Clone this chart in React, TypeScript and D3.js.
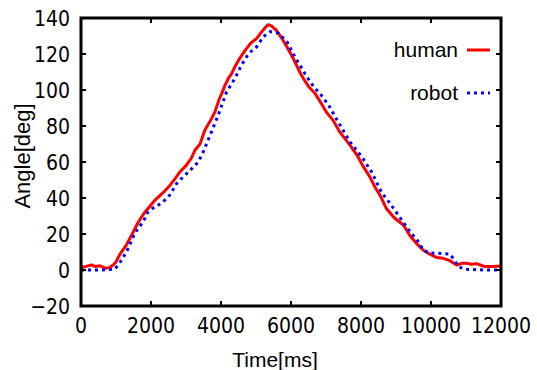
import React from 'react';
import * as d3 from 'd3';

// human trajectory (time in ms, angle in deg)
const humanTime = [0, 150, 300, 400, 550, 700, 800, 920, 1000, 1120, 1300, 1490, 1620, 1780, 1950, 2100, 2260, 2400, 2540, 2700, 2830, 3000, 3150, 3260, 3400, 3540, 3700, 3830, 3950, 4020, 4100, 4210, 4300, 4400, 4550, 4690, 4850, 5020, 5150, 5280, 5350, 5450, 5590, 5730, 5880, 5970, 6110, 6250, 6350, 6500, 6690, 6850, 7000, 7210, 7380, 7540, 7700, 7880, 8050, 8260, 8400, 8540, 8730, 8950, 9210, 9400, 9600, 9780, 9950, 10160, 10350, 10540, 10730, 10900, 11020, 11150, 11300, 11450, 11540, 11750, 12000];
const humanAngle = [1.5, 2, 2.8, 2, 2.3, 1, 1.2, 2.8, 4.5, 9, 14, 21, 26, 31, 35, 38.5, 41.5, 44, 47, 51, 54.6, 58, 62, 66.7, 70, 77.8, 83, 88, 95, 98, 102, 106.5, 109, 113, 118, 122, 126, 128.7, 132, 135, 136.3, 135.5, 133, 129, 124, 121, 115.7, 110, 106.5, 102, 98, 93, 88, 83, 77, 73, 69, 64, 58, 51.5, 46, 41.7, 34, 29, 25, 19, 14.5, 11, 9, 7, 6.5, 5.2, 2.8, 3.8, 3.7, 3.2, 3.5, 2.5, 1.9, 2, 2.2];

// robot trajectory
const robotTime = [0, 300, 600, 970, 1160, 1350, 1540, 1780, 1920, 2100, 2300, 2540, 2730, 2920, 3100, 3350, 3500, 3690, 3920, 4160, 4400, 4590, 4780, 4950, 5020, 5210, 5400, 5640, 5880, 6110, 6400, 6640, 6830, 7070, 7400, 7690, 8020, 8300, 8590, 8830, 9160, 9400, 9640, 9780, 9950, 10160, 10540, 10650, 10780, 10970, 11500, 12000];
const robotAngle = [0, 0, 0, 0.5, 5.5, 12, 20.5, 27, 32.4, 35, 37, 41.7, 48, 51.8, 55, 60, 66, 75, 86, 99, 106.5, 114, 120, 123, 124, 129.6, 132.4, 131.5, 127, 118.5, 109, 102, 98, 91.7, 80.5, 71, 63, 54.6, 43, 37, 27.8, 21.3, 15.7, 11, 9.5, 9.3, 8.9, 6, 1.9, 0.4, 0, 0];

const xTicks = [0, 2000, 4000, 6000, 8000, 10000, 12000];
const yTicks = [-20, 0, 20, 40, 60, 80, 100, 120, 140];

const W = 537;
const H = 370;
const FONT = '"Liberation Sans", Arial, sans-serif';
const NUM_FONT = '"Liberation Sans Narrow", "DejaVu Sans Condensed", sans-serif';

export default function App() {
  const x = d3.scaleLinear().domain([0, 12000]).range([81, 501]);
  const y = d3.scaleLinear().domain([-20, 140]).range([306, 18]);

  const line = d3.line<[number, number]>().x(d => x(d[0])).y(d => y(d[1]));
  const human = line(humanTime.map((t, i) => [t, humanAngle[i]] as [number, number])) || '';
  const robot = line(robotTime.map((t, i) => [t, robotAngle[i]] as [number, number])) || '';

  return (
    <svg width={W} height={H} style={{ position: 'absolute', left: 0, top: 0, background: '#fff' }}>
      <defs>
        <clipPath id="plot">
          <rect x={81} y={18} width={420} height={288} />
        </clipPath>
      </defs>
      <g clipPath="url(#plot)">
        <path d={human} fill="none" stroke="#ff0000" strokeWidth={3} strokeLinejoin="round" />
        <path d={robot} fill="none" stroke="#0000ff" strokeWidth={3} strokeDasharray="3,4" />
      </g>

      {/* ticks, inward on all sides */}
      {xTicks.map(t => (
        <g key={'xt' + t}>
          <line x1={x(t)} x2={x(t)} y1={y(-20)} y2={y(-20) - 5} stroke="#000" strokeWidth={2} />
          <line x1={x(t)} x2={x(t)} y1={y(140)} y2={y(140) + 5} stroke="#000" strokeWidth={2} />
          <text x={x(t)} y={333} textAnchor="middle" fontFamily={NUM_FONT} fontSize={21} fill="#000">{t}</text>
        </g>
      ))}
      {yTicks.map(v => (
        <g key={'yt' + v}>
          <line x1={x(0)} x2={x(0) + 5} y1={y(v)} y2={y(v)} stroke="#000" strokeWidth={2} />
          <line x1={x(12000)} x2={x(12000) - 5} y1={y(v)} y2={y(v)} stroke="#000" strokeWidth={2} />
          <text x={70} y={y(v) + 7.5} textAnchor="end" fontFamily={NUM_FONT} fontSize={21} fill="#000">
            {v < 0 ? '\u2212' + Math.abs(v) : v}
          </text>
        </g>
      ))}

      <rect x={81} y={18} width={420} height={288} fill="none" stroke="#000" strokeWidth={3} />

      {/* legend */}
      <text x={458} y={57} textAnchor="end" fontFamily={FONT} fontSize={21} fill="#000">human</text>
      <line x1={467} x2={490} y1={50} y2={50} stroke="#ff0000" strokeWidth={3} />
      <text x={458} y={100} textAnchor="end" fontFamily={FONT} fontSize={21} fill="#000">robot</text>
      <line x1={467} x2={490} y1={93} y2={93} stroke="#0000ff" strokeWidth={3} strokeDasharray="3,4" />

      {/* axis titles */}
      <text x={275} y={367} textAnchor="middle" fontFamily={FONT} fontSize={21} fill="#000">Time[ms]</text>
      <text transform="translate(30,156) rotate(-90)" textAnchor="middle" fontFamily={FONT} fontSize={22} fill="#000">Angle[deg]</text>
    </svg>
  );
}
